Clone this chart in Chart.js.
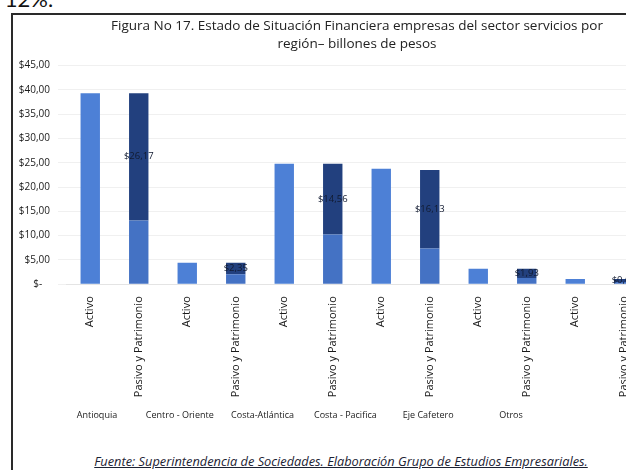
<!DOCTYPE html>
<html lang="es">
<head>
<meta charset="utf-8">
<script src="https://cdn.jsdelivr.net/npm/chart.js@4.4.1/dist/chart.umd.min.js"></script>
<style>
  html, body { margin: 0; padding: 0; background: #fff; overflow: hidden; width: 626px; height: 470px; }
  #arriba { position: absolute; left: -30px; top: -15px; font: 22px Lato, sans-serif; color: #111; }
  #marco { position: absolute; left: 11px; top: 13px; width: 720px; height: 480px; border: 2px solid #2a2a2a; box-sizing: border-box; }
  #zona { position: absolute; left: 14px; top: 16px; width: 682px; height: 406px; }
  #fuente { position: absolute; left: 0; width: 682px; top: 452px; text-align: center; font: italic 12.8px "Open Sans", sans-serif; color: #1c2233; text-decoration: underline; }
</style>
</head>
<body>
<div id="arriba">del 12%.</div>
<div id="marco"></div>
<div id="zona"><canvas id="estado"></canvas></div>
<div id="fuente">Fuente: Superintendencia de Sociedades. Elaboración Grupo de Estudios Empresariales.</div>
<script>
// datos (billones de pesos)
const regiones = ['Antioquia', 'Centro - Oriente', 'Costa-Atlántica', 'Costa - Pacifica', 'Eje Cafetero', 'Otros'];
const activo = [39.30, 4.40, 24.80, 23.75, 3.20, 1.10];
const pasivo = [13.13, 2.05, 10.24, 7.37, 1.27, 0.48];
const patrimonio = [26.17, 2.35, 14.56, 16.13, 1.93, 0.62];
const barras = ['Activo', 'Pasivo y Patrimonio'];

// une dos barras por region : Activo | Pasivo y Patrimonio
const etiquetas = [];
const serieActivo = [];
const seriePasivo = [];
const seriePatrimonio = [];
regiones.forEach((r, i) => {
    etiquetas.push(barras[0], barras[1]);
    serieActivo.push(activo[i], null);
    seriePasivo.push(null, pasivo[i]);
    seriePatrimonio.push(null, patrimonio[i]);
});

function pesos(v) {
    if (v === 0) return '$-   ';
    return '$' + v.toFixed(2).replace('.', ',');
}

// etiqueta de valor al centro del segmento de patrimonio
const valoresPatrimonio = {
    id: 'valoresPatrimonio',
    afterDatasetsDraw(chart) {
        const ctx = chart.ctx;
        const meta = chart.getDatasetMeta(2);
        ctx.save();
        ctx.font = '9.5px "Open Sans", sans-serif';
        ctx.fillStyle = '#111a30';
        ctx.textAlign = 'center';
        ctx.textBaseline = 'middle';
        meta.data.forEach((bar, i) => {
            const v = seriePatrimonio[i];
            if (v == null) return;
            const p = bar.getCenterPoint();
            ctx.fillText(pesos(v), p.x, p.y);
        });
        ctx.restore();
    }
};

const ctx = document.getElementById('estado').getContext('2d');
new Chart(ctx, {
    type: 'bar',
    data: {
        labels: etiquetas,
        datasets: [
            { label: 'Activo', data: serieActivo, backgroundColor: '#4d80d6' },
            { label: 'Pasivo', data: seriePasivo, backgroundColor: '#4472c4' },
            { label: 'Patrimonio', data: seriePatrimonio, backgroundColor: '#22407e' }
        ]
    },
    options: {
        responsive: true,
        maintainAspectRatio: false,
        animation: false,
        categoryPercentage: 1,
        barPercentage: 0.4,
        layout: { padding: { left: 2, right: 48, bottom: 0 } },
        plugins: {
            legend: { display: false },
            tooltip: { enabled: false },
            title: {
                display: true,
                fullSize: false,
                text: ['Figura No 17. Estado de Situación Financiera empresas del sector servicios por', 'región– billones de pesos'],
                color: '#222',
                font: { family: 'Open Sans', size: 13.5, weight: 'normal', lineHeight: 1.35 },
                padding: { top: 1, bottom: 12 }
            }
        },
        scales: {
            x: {
                stacked: true,
                grid: { display: false },
                border: { color: '#e4e4e4' },
                ticks: {
                    autoSkip: false,
                    minRotation: 90,
                    maxRotation: 90,
                    padding: 4,
                    color: '#1a1a1a',
                    font: { family: 'Open Sans', size: 11 }
                }
            },
            regiones: {
                type: 'linear',
                position: 'bottom',
                offset: false,
                min: -0.374,
                max: 6.655,
                grid: { display: false },
                border: { display: false },
                afterBuildTicks(scale) {
                    scale.ticks = regiones.map((r, i) => ({ value: i }));
                },
                ticks: {
                    autoSkip: false,
                    maxRotation: 0,
                    padding: 1,
                    color: '#1a1a1a',
                    font: { family: 'Open Sans', size: 9 },
                    callback: (v) => regiones[v]
                }
            },
            y: {
                stacked: true,
                min: 0,
                max: 45,
                afterFit(scale) { scale.width = 50; },
                grid: { color: '#f0f0f0' },
                border: { display: false },
                ticks: {
                    stepSize: 5,
                    padding: 8,
                    color: '#1a1a1a',
                    font: { family: 'Open Sans', size: 10 },
                    callback: (v) => pesos(v)
                }
            }
        }
    },
    plugins: [valoresPatrimonio]
});
</script>
</body>
</html>
